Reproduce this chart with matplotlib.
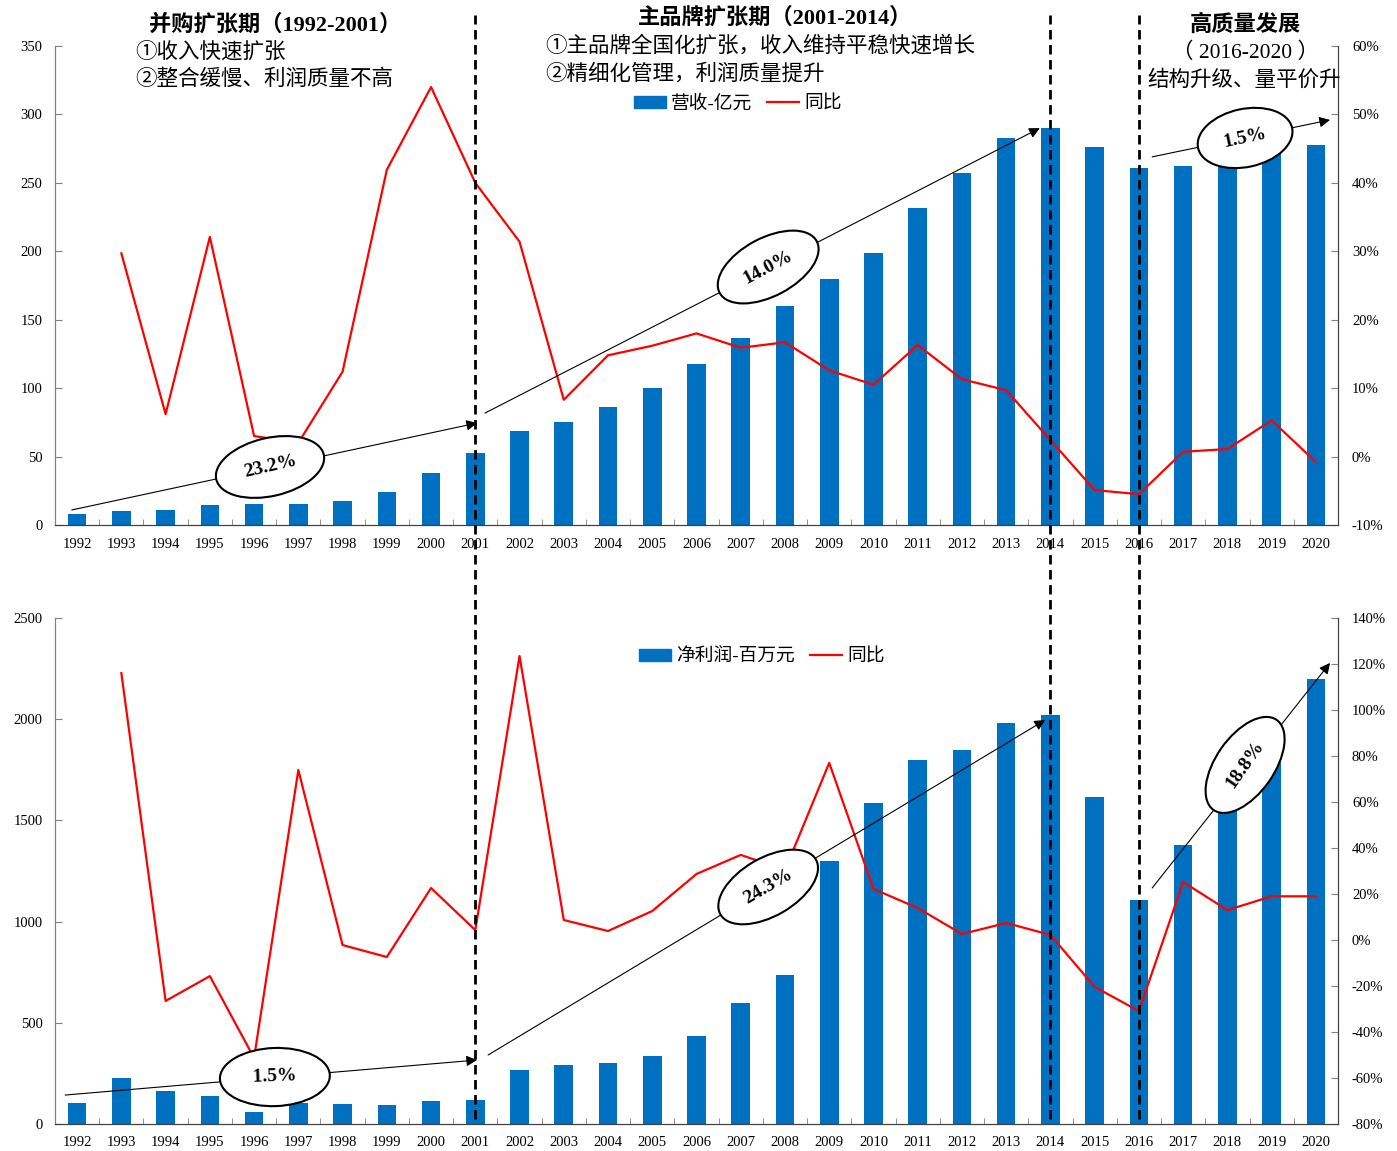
import numpy as np
import matplotlib.pyplot as plt
import matplotlib.transforms as mtransforms
from matplotlib.lines import Line2D
from matplotlib.patches import Patch

plt.rcParams['font.family'] = ['Liberation Serif', 'Noto Sans CJK SC']

years = [str(y) for y in range(1992, 2021)]
# 营收（亿元）
revenue = [8, 10, 11, 14.6, 15, 15, 17.5, 24, 38, 52.6,
           69, 75, 86, 100, 118, 136.6, 160, 180, 199, 231.6,
           257, 283, 290, 276, 261, 262, 269, 275, 277.6]
# 营收同比（%）
revenue_yoy = [np.nan, 29.7, 6.2, 32.1, 3.0, 2.0, 12.4, 41.9, 54.0, 40.0,
               31.4, 8.3, 14.8, 16.2, 18.0, 15.9, 16.7, 12.6, 10.5, 16.3,
               11.3, 9.7, 2.4, -4.9, -5.5, 0.7, 1.1, 5.3, -0.8]
# 净利润（百万元）
profit = [104, 227, 163, 138, 59, 104, 99, 94, 114, 119,
          267, 291, 301, 336, 435, 598, 736, 1299, 1586, 1798,
          1848, 1981, 2021, 1616, 1107, 1378, 1560, 1800, 2199]
# 净利润同比（%）
profit_yoy = [np.nan, 116, -26.5, -15.7, -51.3, 73.9, -2.2, -7.4, 22.6, 4.3,
              123.5, 8.7, 3.9, 12.6, 28.7, 37.0, 30.4, 77.0, 22.2, 13.9,
              2.6, 7.4, 2.2, -20.4, -30.9, 25.2, 13.0, 19.0, 19.0]

BLUE = '#0070C0'
RED = '#FF0000'
W, H = 1397, 1151

fig = plt.figure(figsize=(W / 100, H / 100), dpi=100)
x = np.arange(len(years))


def make_axes(top, bottom):
    ax = fig.add_axes([55 / W, 1 - bottom / H, (1338 - 55) / W, (bottom - top) / H])
    ax2 = ax.twinx()
    return ax, ax2


def style(ax, ax2, bars, yoy, ylim, yticks, y2lim, y2ticks):
    ax.bar(x, bars, width=0.42, color=BLUE, zorder=2)
    ax2.plot(x, yoy, color=RED, lw=1.6, zorder=3)
    ax.set_xlim(-0.5, len(years) - 0.5)
    ax.set_ylim(*ylim)
    ax.set_yticks(yticks)
    ax2.set_ylim(*y2lim)
    ax2.set_yticks(y2ticks)
    ax2.set_yticklabels(['%d%%' % v for v in y2ticks])
    ax.set_xticks(x)
    ax.set_xticklabels(years)
    ax.set_xticks(np.arange(0.5, len(years) - 1, 1), minor=True)
    ax.tick_params(axis='x', which='major', length=0, pad=9, labelsize=10.5)
    ax.tick_params(axis='x', which='minor', direction='in', length=4, color='#808080')
    ax.tick_params(axis='y', direction='in', length=5, pad=9, labelsize=10.5, color='#808080')
    ax2.tick_params(axis='y', direction='in', length=5, pad=10, labelsize=10.5, color='#808080')
    for a in (ax, ax2):
        a.spines['top'].set_visible(False)
        a.spines['left'].set_color('#808080')
        a.spines['right'].set_color('#404040')
        a.spines['bottom'].set_color('#404040')


ax1, ax1r = make_axes(46, 525)
style(ax1, ax1r, revenue, revenue_yoy, (0, 350), range(0, 351, 50),
      (-10, 60), list(range(-10, 61, 10)))
ax2, ax2r = make_axes(618, 1124)
style(ax2, ax2r, profit, profit_yoy, (0, 2500), range(0, 2501, 500),
      (-80, 140), list(range(-80, 141, 20)))


def cagr(ax, axr, start, end, center, label, rot):
    axr.annotate('', xy=end, xytext=start, xycoords=ax.transData, textcoords=ax.transData,
                 arrowprops=dict(arrowstyle='-|>', color='black', lw=0.8,
                                 mutation_scale=16, shrinkA=0, shrinkB=0), zorder=4)
    axr.text(center[0], center[1], label, transform=ax.transData, rotation=rot,
             ha='center', va='center', fontsize=14, fontweight='bold', zorder=5,
             bbox=dict(boxstyle='ellipse,pad=0.62', fc='white', ec='black', lw=1.5))


cagr(ax1, ax1r, (-0.12, 11), (9.04, 74.5), (4.36, 42.4), '23.2%', 13)
cagr(ax1, ax1r, (9.22, 81.8), (21.76, 290), (15.62, 188.5), '14.0%', 28)
cagr(ax1, ax1r, (24.3, 269), (28.32, 296), (26.4, 282.8), '1.5%', 12)
cagr(ax2, ax2r, (-0.27, 143), (9.04, 316), (4.47, 232), ' 1.5% ', 2)
cagr(ax2, ax2r, (9.29, 341), (21.88, 1996), (15.62, 1171), '24.3%', 30)
cagr(ax2, ax2r, (24.3, 1166), (28.32, 2278), (26.4, 1774), '18.8%', 55)

# 阶段分隔虚线
trans = mtransforms.blended_transform_factory(ax1.transData, fig.transFigure)
for idx in [9, 22, 24]:
    fig.add_artist(Line2D([idx, idx], [1 - 1119 / H, 1 - 15 / H], transform=trans,
                          color='black', lw=2.0, ls=(0, (3.4, 2.0)), zorder=6))

# 阶段说明
fig.text(275 / W, 1 - 25 / H, '并购扩张期（1992-2001）', ha='center', va='center',
         fontsize=16, fontweight='bold')
fig.text(135 / W, 1 - 52 / H, '①收入快速扩张', ha='left', va='center', fontsize=15.5)
fig.text(135 / W, 1 - 80 / H, '②整合缓慢、利润质量不高', ha='left', va='center', fontsize=15.5)
fig.text(775 / W, 1 - 18 / H, '主品牌扩张期（2001-2014）', ha='center', va='center',
         fontsize=16, fontweight='bold')
fig.text(545 / W, 1 - 46 / H, '①主品牌全国化扩张，收入维持平稳快速增长', ha='left', va='center',
         fontsize=15.5)
fig.text(545 / W, 1 - 74 / H, '②精细化管理，利润质量提升', ha='left', va='center', fontsize=15.5)
fig.text(1245 / W, 1 - 25 / H, '高质量发展', ha='center', va='center', fontsize=16,
         fontweight='bold')
fig.text(1245 / W, 1 - 53 / H, '（ 2016-2020 ）', ha='center', va='center', fontsize=15.5)
fig.text(1244 / W, 1 - 80 / H, '结构升级、量平价升', ha='center', va='center', fontsize=15.5)


def legend(ax, label, cx, cy):
    handles = [Patch(color=BLUE, label=label), Line2D([], [], color=RED, lw=1.6, label='同比')]
    ax.legend(handles=handles, ncol=2, loc='center', bbox_to_anchor=(cx / W, 1 - cy / H),
              bbox_transform=fig.transFigure, frameon=False, fontsize=13.5,
              handlelength=1.7, handleheight=0.6, handletextpad=0.3, columnspacing=0.8)


legend(ax1r, '营收-亿元', 738, 104)
legend(ax2r, '净利润-百万元', 762, 657)

fig.savefig('out.png', dpi=100)
